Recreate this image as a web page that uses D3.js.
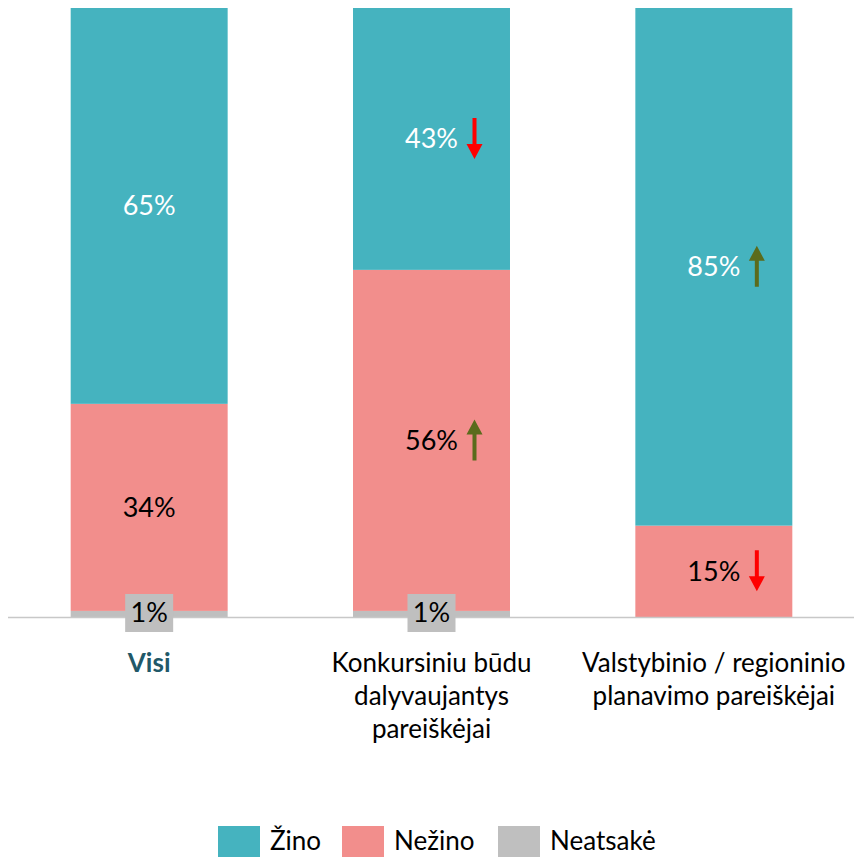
<!DOCTYPE html>
<meta charset="utf-8">
<style>
body { margin: 0; background: #fff; }
svg text { font-family: Lato, "Open Sans", sans-serif; }
</style>
<svg width="854" height="857"></svg>
<script src="https://cdnjs.cloudflare.com/ajax/libs/d3/7.8.5/d3.min.js"></script>
<script>
// data
var categories = ["Visi", "Konkursiniu būdu dalyvaujantys pareiškėjai", "Valstybinio / regioninio planavimo pareiškėjai"];
var catLines = [["Visi"], ["Konkursiniu būdu", "dalyvaujantys", "pareiškėjai"], ["Valstybinio / regioninio", "planavimo pareiškėjai"]];
var seriesNames = ["Neatsakė", "Nežino", "Žino"];
var neatsake = [1, 1, 0];
var nezino = [34, 56, 15];
var zino = [65, 43, 85];
// change markers: "up", "down" or null
var zinoChange = [null, "down", "up"];
var nezinoChange = [null, "up", "down"];

var colors = { "Žino": "#45b3bf", "Nežino": "#f28e8c", "Neatsakė": "#bfbfbf" };

var svg = d3.select("svg"),
    baseY = 617;

var x = d3.scaleBand()
    .domain(categories)
    .range([8, 855])
    .paddingInner(0.444)
    .paddingOuter(0.222);

var y = d3.scaleLinear().domain([0, 100]).range([baseY, 8]);

var rows = categories.map(function(c, i) {
  return { cat: c, "Neatsakė": neatsake[i], "Nežino": nezino[i], "Žino": zino[i],
           chg: { "Žino": zinoChange[i], "Nežino": nezinoChange[i], "Neatsakė": null } };
});

var stack = d3.stack().keys(seriesNames)(rows);

var layers = svg.append("g").selectAll("g")
  .data(stack)
  .join("g")
    .attr("fill", function(d) { return colors[d.key]; });

layers.selectAll("rect")
  .data(function(d) { return d.map(function(s) { s.key = d.key; return s; }); })
  .join("rect")
    .attr("x", function(d) { return x(d.data.cat); })
    .attr("width", x.bandwidth())
    .attr("y", function(d) { return y(d[1]); })
    .attr("height", function(d) { return y(d[0]) - y(d[1]); });

// axis line
svg.append("line")
    .attr("x1", 8).attr("x2", 854)
    .attr("y1", baseY + 0.5).attr("y2", baseY + 0.5)
    .attr("stroke", "#c8c8c8").attr("stroke-width", 1.5);

// value labels
var labels = svg.append("g");
stack.forEach(function(layer) {
  layer.forEach(function(s) {
    var v = s.data[layer.key];
    if (!v) return;
    var cx = x(s.data.cat) + x.bandwidth() / 2;
    var cy = (y(s[0]) + y(s[1])) / 2;
    if (layer.key === "Neatsakė") {
      cy = baseY - 4;
      labels.append("rect")
          .attr("x", cx - 24).attr("y", cy - 19)
          .attr("width", 48).attr("height", 38)
          .attr("fill", colors["Neatsakė"]);
    }
    labels.append("text")
        .attr("x", cx).attr("y", cy)
        .attr("dy", "0.35em")
        .attr("text-anchor", "middle")
        .attr("font-size", 27)
        .attr("fill", layer.key === "Žino" ? "#fff" : "#000")
        .text(v + "%");
    var ch = s.data.chg[layer.key];
    if (ch) {
      var ax = cx + 43, top = cy - 21, bot = cy + 20;
      var col = ch === "up" ? "#5b6b1c" : "#ff0000";
      var path = ch === "up"
        ? "M" + ax + "," + top + "L" + (ax + 8) + "," + (top + 15) + "L" + (ax + 2) + "," + (top + 15) +
          "L" + (ax + 2) + "," + bot + "L" + (ax - 2) + "," + bot + "L" + (ax - 2) + "," + (top + 15) +
          "L" + (ax - 8) + "," + (top + 15) + "Z"
        : "M" + ax + "," + bot + "L" + (ax + 8) + "," + (bot - 15) + "L" + (ax + 2) + "," + (bot - 15) +
          "L" + (ax + 2) + "," + top + "L" + (ax - 2) + "," + top + "L" + (ax - 2) + "," + (bot - 15) +
          "L" + (ax - 8) + "," + (bot - 15) + "Z";
      labels.append("path").attr("d", path).attr("fill", col);
    }
  });
});

// category labels
var cats = svg.append("g");
categories.forEach(function(c, i) {
  var t = cats.append("text")
      .attr("x", x(c) + x.bandwidth() / 2)
      .attr("y", 672)
      .attr("text-anchor", "middle")
      .attr("font-size", 26)
      .attr("font-weight", i === 0 ? "bold" : "normal")
      .attr("fill", i === 0 ? "#215868" : "#000");
  catLines[i].forEach(function(l, j) {
    t.append("tspan").attr("x", x(c) + x.bandwidth() / 2).attr("dy", j ? 33 : 0).text(l);
  });
});

// legend
var legendItems = [["Žino", 218], ["Nežino", 342], ["Neatsakė", 498]];
var lg = svg.append("g").selectAll("g")
  .data(legendItems)
  .join("g")
    .attr("transform", function(d) { return "translate(" + d[1] + ",826)"; });
lg.append("rect").attr("width", 42).attr("height", 31)
    .attr("fill", function(d) { return colors[d[0]]; });
lg.append("text").attr("x", 52).attr("y", 24)
    .attr("font-size", 26)
    .text(function(d) { return d[0]; });
</script>
